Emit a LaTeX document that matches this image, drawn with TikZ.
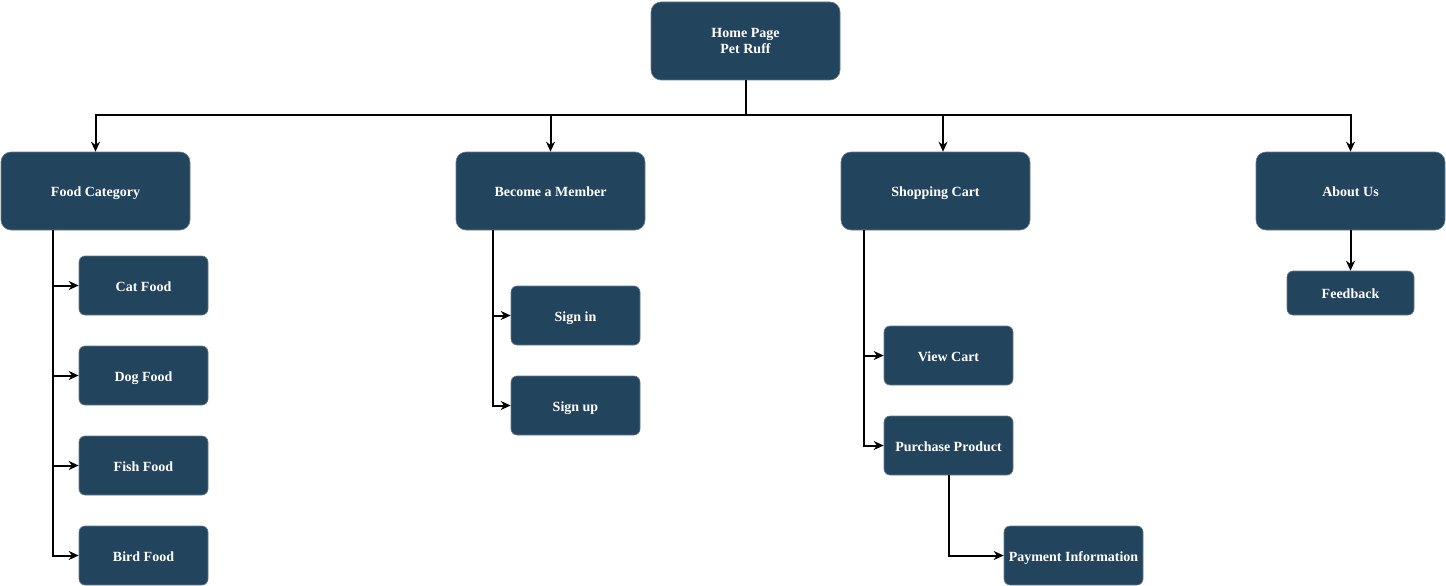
\documentclass[tikz,border=0pt]{standalone}
\usepackage{fontspec}
\setmainfont{Liberation Serif}
\usetikzlibrary{arrows.meta,calc}
\definecolor{boxblue}{HTML}{23445D}
\begin{document}
\begin{tikzpicture}[x=1pt,y=-1pt,
  box/.style={fill=boxblue,draw=boxblue!70!white,line width=0.6pt,text=white,
    font=\fontsize{14}{16}\selectfont\bfseries,align=center,inner sep=2pt},
  oneline/.style={text height=11pt,text depth=0pt},
  bigsize/.style={minimum width=189pt,minimum height=78pt,rounded corners=10pt},
  bigbox/.style={box,bigsize,oneline},
  smallbox/.style={box,oneline,minimum width=129pt,minimum height=59pt,rounded corners=6pt},
  conn/.style={draw=black,line width=2pt,-{Stealth[length=10pt,width=9pt]}},
  wire/.style={draw=black,line width=2pt}]
\useasboundingbox (0,0) rectangle (1446,586);
\node[box,bigsize] (home) at (745.5,41) {Home Page\\Pet Ruff};
\node[bigbox] (food) at (95.5,191) {Food Category};
\node[bigbox] (member) at (550.5,191) {Become a Member};
\node[bigbox] (cart) at (935.5,191) {Shopping Cart};
\node[bigbox] (about) at (1350.5,191) {About Us};
\node[smallbox] (cat) at (143.5,285.5) {Cat Food};
\node[smallbox] (dog) at (143.5,375.5) {Dog Food};
\node[smallbox] (fish) at (143.5,465.5) {Fish Food};
\node[smallbox] (bird) at (143.5,555.5) {Bird Food};
\node[smallbox] (signin) at (575.5,315.5) {Sign in};
\node[smallbox] (signup) at (575.5,405.5) {Sign up};
\node[smallbox] (view) at (948.5,355.5) {View Cart};
\node[smallbox] (purchase) at (948.5,445.5) {Purchase Product};
\node[smallbox,minimum width=139pt] (payment) at (1073.5,555.5) {Payment Information};
\node[smallbox,minimum width=127pt,minimum height=44pt] (feedback) at (1350.5,293) {Feedback};
% home bus
\coordinate (bus) at (745.5,115);
\coordinate (cartin) at ($(cart.north)+(7.5,0)$);
\draw[wire] (home.south) -- (bus);
\draw[wire] (food.north |- bus) -- (about.north |- bus);
\draw[conn] (home.south) |- (food.north |- bus) -- (food.north);
\draw[conn] (home.south) |- (member.north |- bus) -- (member.north);
\draw[conn] (home.south) |- (cartin |- bus) -- (cartin);
\draw[conn] (home.south) |- (about.north |- bus) -- (about.north);
% food category
\coordinate (ftrunk) at (53,230);
\draw[conn] (ftrunk) |- (cat.west);
\draw[conn] (ftrunk) |- (dog.west);
\draw[conn] (ftrunk) |- (fish.west);
\draw[conn] (ftrunk) |- (bird.west);
% member
\coordinate (mtrunk) at (492.5,230);
\draw[conn] (mtrunk) |- (signin.west);
\draw[conn] (mtrunk) |- (signup.west);
% cart
\coordinate (ctrunk) at (863.5,230);
\draw[conn] (ctrunk) |- (view.west);
\draw[conn] (ctrunk) |- (purchase.west);
\draw[conn] (purchase.south) |- (payment.west);
% about
\draw[conn] (about.south) -- (feedback.north);
\end{tikzpicture}
\end{document}
